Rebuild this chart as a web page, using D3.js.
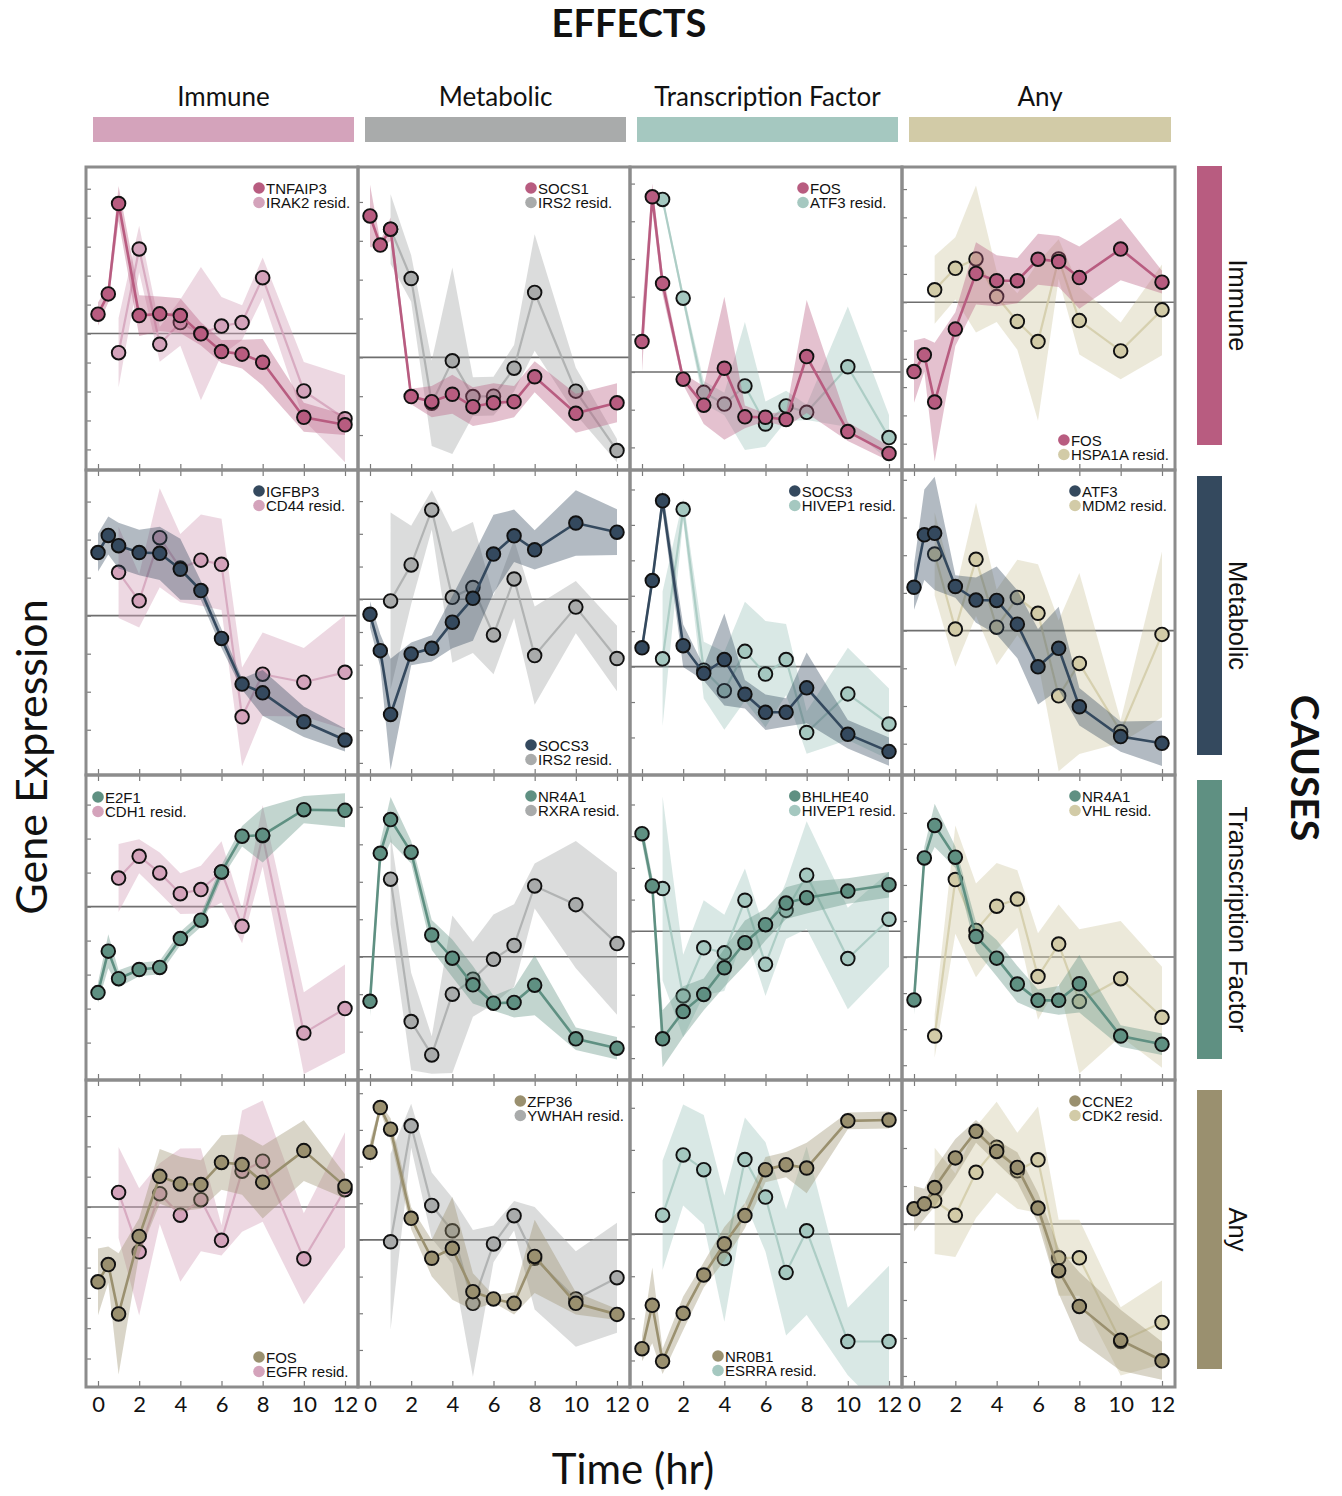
<!DOCTYPE html>
<html>
<head>
<meta charset="utf-8">
<script src="https://cdn.jsdelivr.net/npm/d3@7"></script>
<style>
  body { margin: 0; background: #fff; }
  text { fill: #111; }
</style>
</head>
<body>
<svg id="chart" width="1342" height="1496"></svg>
<script>
// ---- data ----
const times = [0, 0.5, 1, 2, 3, 4, 5, 6, 7, 8, 10, 12];
const xTickValues = [0, 2, 4, 6, 8, 10, 12];
const categories = ["Immune", "Metabolic", "Transcription Factor", "Any"];

// cause (row) = dark colour, effect (column) = light colour
const causeColors = ["#b85c80", "#34495e", "#5f9082", "#9a906f"];
const effectColors = ["#d4a3bb", "#a9abab", "#a5c8c0", "#d2cba7"];

const mainGenes = [
  ["TNFAIP3", "SOCS1", "FOS", "FOS"],
  ["IGFBP3", "SOCS3", "SOCS3", "ATF3"],
  ["E2F1", "NR4A1", "BHLHE40", "NR4A1"],
  ["FOS", "ZFP36", "NR0B1", "CCNE2"]
];
const residGenes = [
  ["IRAK2", "IRS2", "ATF3", "HSPA1A"],
  ["CD44", "IRS2", "HIVEP1", "MDM2"],
  ["CDH1", "RXRA", "HIVEP1", "VHL"],
  ["EGFR", "YWHAH", "ESRRA", "CDK2"]
];

const mainValues = [
  [
    [0.67, 1.37, 4.49, 0.62, 0.68, 0.62, -0.01, -0.62, -0.71, -0.99, -2.89, -3.15],
    [3.64, 2.89, 3.30, -1.01, -1.14, -0.95, -1.27, -1.17, -1.14, -0.50, -1.44, -1.17],
    [0.81, 4.65, 2.35, -0.19, -0.88, 0.10, -1.19, -1.20, -1.26, 0.41, -1.58, -2.16],
    [-2.45, -1.86, -3.53, -0.95, 1.02, 0.76, 0.76, 1.52, 1.44, 0.87, 1.88, 0.71]
  ],
  [
    [1.66, 2.11, 1.84, 1.66, 1.64, 1.22, 0.66, -0.60, -1.80, -2.03, -2.79, -3.27],
    [-0.46, -1.57, -3.52, -1.67, -1.50, -0.70, 0.03, 1.38, 1.94, 1.51, 2.33, 2.05],
    [0.53, 2.43, 4.68, 0.59, -0.19, 0.20, -0.78, -1.29, -1.29, -0.60, -1.91, -2.40],
    [1.15, 2.54, 2.58, 1.17, 0.81, 0.80, 0.17, -0.96, -0.47, -2.02, -2.81, -2.99]
  ],
  [
    [-2.53, -1.31, -2.12, -1.85, -1.79, -0.94, -0.40, 1.02, 2.07, 2.10, 2.85, 2.83],
    [-1.19, 2.76, 3.66, 2.79, 0.58, -0.04, -0.75, -1.24, -1.22, -0.76, -2.19, -2.44],
    [3.08, 1.43, -3.39, -2.53, -1.99, -1.15, -0.36, 0.21, 0.89, 1.06, 1.27, 1.47],
    [-1.19, 2.75, 3.65, 2.77, 0.57, -0.03, -0.75, -1.20, -1.20, -0.74, -2.19, -2.42]
  ],
  [
    [-2.47, -1.90, -3.53, -0.97, 1.01, 0.76, 0.74, 1.47, 1.40, 0.82, 1.86, 0.68],
    [2.39, 3.61, 3.02, 0.59, -0.50, -0.23, -1.41, -1.61, -1.73, -0.45, -1.73, -2.03],
    [-2.72, -1.69, -3.02, -1.88, -0.97, -0.23, 0.44, 1.53, 1.65, 1.57, 2.69, 2.71],
    [0.40, 0.53, 0.96, 1.74, 2.44, 1.91, 1.49, 0.42, -1.23, -2.17, -3.06, -3.60]
  ]
];
const mainSpread = [
  [
    [0.4, 0.3, 0.6, 0.7, 0.6, 0.6, 0.4, 0.4, 0.5, 0.8, 0.5, 0.35],
    [0.8, 0.1, 0.3, 0.2, 0.4, 0.5, 0.5, 0.5, 0.4, 0.4, 0.5, 0.5],
    [0.8, 0.35, 0.3, 0.15, 0.5, 1.9, 0.3, 0.1, 0.2, 1.5, 0.25, 0.2],
    [1.1, 0.6, 2.1, 0.6, 1.1, 0.9, 0.8, 0.9, 0.9, 1.1, 1.1, 0.4]
  ],
  [
    [0.5, 0.5, 0.6, 0.6, 0.7, 0.8, 0.25, 0.25, 0.15, 0.6, 0.4, 0.3],
    [0.4, 0.5, 1.7, 0.35, 0.4, 0.8, 1.3, 1.2, 0.8, 0.6, 1.0, 0.7],
    [0.2, 0.2, 0.3, 0.6, 0.2, 1.3, 0.4, 0.5, 0.4, 1.0, 0.4, 0.4],
    [0.6, 1.2, 1.5, 0.3, 0.6, 0.9, 0.9, 1.0, 1.1, 0.5, 0.4, 0.6]
  ],
  [
    [0.3, 0.5, 0.25, 0.2, 0.2, 0.2, 0.2, 0.2, 0.3, 0.8, 0.4, 0.5],
    [0.4, 0.3, 0.6, 0.3, 0.4, 0.5, 0.5, 0.2, 0.4, 0.8, 0.3, 0.3],
    [0.3, 0.3, 0.9, 0.8, 0.5, 0.6, 0.7, 0.5, 0.5, 0.5, 0.4, 0.4],
    [0.4, 0.3, 0.6, 0.3, 0.4, 0.5, 0.5, 0.3, 0.4, 0.8, 0.3, 0.3]
  ],
  [
    [1.1, 0.6, 2.0, 0.6, 0.9, 0.9, 0.8, 0.9, 1.0, 1.2, 1.0, 0.4],
    [0.3, 0.1, 0.3, 0.3, 0.5, 1.4, 0.5, 0.1, 0.3, 1.0, 0.3, 0.15],
    [0.3, 0.9, 0.3, 0.4, 0.3, 0.4, 0.3, 0.3, 0.3, 0.6, 0.2, 0.2],
    [0.6, 0.4, 0.5, 0.5, 0.3, 0.3, 0.4, 0.4, 0.6, 0.9, 0.8, 0.5]
  ]
];
const residValues = [
  [
    [null, null, -0.66, 2.92, -0.37, 0.38, 0.0, 0.26, 0.38, 1.93, -1.98, -2.94],
    [null, null, 3.30, 2.03, -1.18, -0.09, -1.01, -1.00, -0.28, 1.67, -0.87, -2.40],
    [null, null, 4.58, 1.96, -0.54, -0.85, -0.37, -1.38, -0.90, -1.07, 0.14, -1.74],
    [null, null, 0.44, 1.20, 1.53, 0.20, -0.68, -1.39, 1.53, -0.65, -1.72, -0.27]
  ],
  [
    [null, null, 1.14, 0.39, 2.05, 1.25, 1.46, 1.35, -2.66, -1.54, -1.75, -1.49],
    [null, null, -0.05, 1.05, 2.73, 0.06, 0.36, -1.09, 0.62, -1.72, -0.24, -1.81],
    [null, null, 0.22, 4.44, -0.10, -0.68, 0.43, -0.21, 0.20, -1.86, -0.77, -1.62],
    [null, null, 2.03, 0.04, 1.89, 0.09, 0.88, 0.46, -1.73, -0.87, -2.68, -0.10]
  ],
  [
    [null, null, 0.84, 1.48, 0.99, 0.38, 0.50, 1.02, -0.58, 2.08, -3.72, -3.00],
    [null, null, 2.07, -1.73, -2.62, -1.00, -0.60, -0.07, 0.30, 1.89, 1.39, 0.35],
    [null, null, 1.35, -2.04, -0.52, -0.68, 0.98, -1.04, 0.66, 1.77, -0.86, 0.38],
    [null, null, -2.19, 2.15, 0.74, 1.41, 1.61, -0.54, 0.36, -1.23, -0.60, -1.67]
  ],
  [
    [null, null, 0.48, -1.48, 0.44, -0.27, 0.24, -1.10, 1.18, 1.51, -1.71, 0.57],
    [null, null, -0.05, 3.11, 0.94, 0.25, -1.73, -0.11, 0.66, -0.50, -1.61, -1.03],
    [null, null, 0.45, 1.88, 1.53, -0.58, 1.77, 0.88, -0.91, 0.08, -2.55, -2.55],
    [null, null, 0.61, 0.23, 1.36, 2.02, 1.40, 1.69, -0.89, -0.89, -3.09, -2.59]
  ]
];
const residSpread = [
  [
    [null, null, 1.2, 0.8, 0.6, 0.8, 2.3, 1.0, 0.6, 0.7, 1.0, 1.5],
    [null, null, 0.9, 0.6, 1.1, 2.4, 0.5, 0.5, 0.6, 1.5, 0.6, 0.3],
    [null, null, 0.1, 0.15, 0.3, 0.3, 1.7, 0.6, 0.4, 0.2, 1.6, 0.6],
    [null, null, 1.2, 1.1, 2.6, 0.9, 1.0, 2.8, 0.7, 1.2, 1.0, 1.6]
  ],
  [
    [null, null, 1.2, 0.7, 1.3, 0.9, 1.2, 1.2, 1.3, 1.1, 0.9, 1.5],
    [null, null, 2.7, 1.2, 0.6, 2.0, 2.0, 1.2, 1.2, 1.5, 0.8, 1.0],
    [null, null, 1.9, 0.3, 0.8, 1.1, 1.4, 1.5, 1.0, 0.6, 1.3, 1.0],
    [null, null, 1.1, 1.0, 1.5, 1.0, 1.0, 1.3, 2.0, 2.4, 0.3, 2.2]
  ],
  [
    [null, null, 1.0, 0.5, 0.6, 0.6, 0.7, 0.9, 0.5, 0.9, 1.2, 1.3],
    [null, null, 1.2, 1.3, 0.5, 2.1, 1.0, 1.2, 1.1, 0.6, 1.7, 1.9],
    [null, null, 2.9, 1.3, 1.5, 1.2, 1.0, 1.0, 0.9, 1.7, 1.6, 1.5],
    [null, null, 0.6, 1.5, 1.3, 1.2, 0.8, 1.2, 1.1, 2.0, 1.6, 1.4]
  ],
  [
    [null, null, 1.5, 2.1, 1.0, 2.2, 1.7, 0.5, 2.0, 2.0, 1.5, 1.9],
    [null, null, 2.4, 0.6, 0.9, 0.9, 2.0, 0.5, 0.4, 1.4, 1.3, 1.5],
    [null, null, 1.3, 1.2, 1.3, 1.5, 1.0, 1.3, 1.5, 2.0, 0.8, 1.8],
    [null, null, 1.4, 1.1, 1.2, 1.2, 1.0, 1.4, 1.0, 1.0, 0.9, 1.1]
  ]
];
// y range of every panel, in the same units as the values (ticks at integers)
const yDomains = [
  [[-4.71, 5.75], [-2.90, 4.90], [-2.60, 5.44], [-5.93, 4.78]],
  [[-4.19, 3.83], [-5.37, 3.95], [-3.06, 5.55], [-3.83, 4.26]],
  [[-5.10, 3.87], [-3.29, 4.85], [-4.69, 4.93], [-3.41, 5.05]],
  [[-5.94, 4.19], [-4.01, 4.36], [-3.63, 3.66], [-4.29, 3.79]]
];

// ---- layout ----
const colEdges = [86, 358, 630, 902, 1175];
const rowEdges = [167, 470, 775, 1080, 1387];
const rightBarTop = [166, 476, 780, 1090];
const legendCorner = [
  ["tr", "tr", "tr", "br"],
  ["tr", "br", "tr", "tr"],
  ["tl", "tr", "tr", "tr"],
  ["br", "tr", "bc", "tr"]
];
const titleFont = "Lato, 'Open Sans', sans-serif";
const plainFont = "'Liberation Sans', Arial, Helvetica, sans-serif";

const svg = d3.select("#chart");

// titles
svg.append("text").attr("x", 629).attr("y", 37)
  .attr("text-anchor", "middle").style("font-family", titleFont)
  .style("font-size", "38px").style("font-weight", "bold").text("EFFECTS");

svg.append("text")
  .attr("transform", "translate(1306,768) rotate(90)")
  .attr("text-anchor", "middle").attr("dominant-baseline", "central")
  .style("font-family", titleFont).style("font-size", "39px").style("font-weight", "bold")
  .text("CAUSES");

svg.append("text")
  .attr("transform", "translate(30,757) rotate(-90)")
  .attr("text-anchor", "middle").attr("dominant-baseline", "central")
  .style("font-family", titleFont).style("font-size", "43px")
  .text("Gene Expression");

svg.append("text").attr("x", 633).attr("y", 1484)
  .attr("text-anchor", "middle").style("font-family", titleFont)
  .style("font-size", "42px").text("Time (hr)");

// category headers (top = effects, right = causes)
categories.forEach((name, i) => {
  const left = colEdges[i] + 7, right = colEdges[i + 1] - 4;
  svg.append("rect").attr("x", left).attr("y", 117)
    .attr("width", right - left).attr("height", 25).attr("fill", effectColors[i]);
  svg.append("text").attr("x", (left + right) / 2).attr("y", 106)
    .attr("text-anchor", "middle").style("font-family", titleFont)
    .style("font-size", "26px").text(name);

  svg.append("rect").attr("x", 1197).attr("y", rightBarTop[i])
    .attr("width", 25).attr("height", 279).attr("fill", causeColors[i]);
  svg.append("text")
    .attr("transform", `translate(1238,${rightBarTop[i] + 139.5}) rotate(90)`)
    .attr("text-anchor", "middle").attr("dominant-baseline", "central")
    .style("font-family", plainFont).style("font-size", "25.5px").text(name);
});

const defs = svg.append("defs");

function drawSeries(g, x, y, values, spread, color, isMain) {
  const pts = times.map((t, k) => ({ t: t, v: values[k], s: spread[k] }))
    .filter(d => d.v != null);

  const area = d3.area()
    .x(d => x(d.t))
    .y0(d => y(d.v - d.s))
    .y1(d => y(d.v + d.s));
  const line = d3.line().x(d => x(d.t)).y(d => y(d.v));

  g.append("path").datum(pts).attr("d", area)
    .attr("fill", color).attr("fill-opacity", isMain ? 0.38 : 0.42);
  g.append("path").datum(pts).attr("d", line)
    .attr("fill", "none").attr("stroke", color)
    .attr("stroke-width", isMain ? 2.6 : 2.2)
    .attr("stroke-opacity", isMain ? 1 : 0.85);
  g.selectAll(null).data(pts).enter().append("circle")
    .attr("cx", d => x(d.t)).attr("cy", d => y(d.v)).attr("r", 6.8)
    .attr("fill", color).attr("stroke", "#111").attr("stroke-width", 1.9);
}

function drawLegend(g, r, c, x0, x1, y0, y1) {
  const corner = legendCorner[r][c];
  const items = [
    { label: mainGenes[r][c], color: causeColors[r] },
    { label: residGenes[r][c] + " resid.", color: effectColors[c] }
  ];
  const lg = g.append("g");
  items.forEach((it, k) => {
    lg.append("circle").attr("cx", 0).attr("cy", k * 14.5).attr("r", 5.8).attr("fill", it.color);
    lg.append("text").attr("x", 7).attr("y", k * 14.5).attr("dominant-baseline", "central")
      .style("font-family", plainFont).style("font-size", "15px").text(it.label);
  });
  const w = d3.max(lg.selectAll("text").nodes(), n => n.getComputedTextLength()) + 7;
  let lx, ly;
  if (corner === "tl") { lx = x0 + 12; ly = y0 + 22; }
  else if (corner === "bc") { lx = x0 + 88; ly = y1 - 31; }
  else {
    lx = Math.min(x0 + 173, x1 - 6 - w);
    ly = corner === "tr" ? y0 + 21 : y1 - 30;
  }
  lg.attr("transform", `translate(${lx},${ly})`);
}

for (let r = 0; r < 4; r++) {
  for (let c = 0; c < 4; c++) {
    const x0 = colEdges[c], x1 = colEdges[c + 1];
    const y0 = rowEdges[r], y1 = rowEdges[r + 1];
    const x = d3.scaleLinear().domain([0, 12]).range([x0 + 12, x1 - 13]);
    const y = d3.scaleLinear().domain(yDomains[r][c]).range([y1, y0]);

    const clipId = `clip-${r}-${c}`;
    defs.append("clipPath").attr("id", clipId)
      .append("rect").attr("x", x0).attr("y", y0).attr("width", x1 - x0).attr("height", y1 - y0);

    const panel = svg.append("g");
    const plot = panel.append("g").attr("clip-path", `url(#${clipId})`);

    // zero line
    plot.append("line").attr("x1", x0).attr("x2", x1)
      .attr("y1", y(0)).attr("y2", y(0))
      .attr("stroke", "#6e6e6e").attr("stroke-width", 1.6);

    drawSeries(plot, x, y, residValues[r][c], residSpread[r][c], effectColors[c], false);
    drawSeries(plot, x, y, mainValues[r][c], mainSpread[r][c], causeColors[r], true);

    // y ticks (inside, left edge)
    const yt = panel.append("g").attr("transform", `translate(${x0},0)`)
      .call(d3.axisRight(y).tickValues(d3.range(Math.ceil(yDomains[r][c][0] + 0.2), Math.floor(yDomains[r][c][1] - 0.2) + 1))
        .tickSize(5).tickFormat(""));
    yt.select(".domain").remove();
    yt.selectAll("line").attr("stroke", "#7a7a7a").attr("stroke-width", 1.2);

    // x ticks (inside, bottom edge and top edge below first row)
    const xb = panel.append("g").attr("transform", `translate(0,${y1})`)
      .call(d3.axisTop(x).tickValues(xTickValues).tickSize(6).tickFormat(""));
    xb.select(".domain").remove();
    xb.selectAll("line").attr("stroke", "#7a7a7a").attr("stroke-width", 1.2);
    if (r > 0) {
      const xt = panel.append("g").attr("transform", `translate(0,${y0})`)
        .call(d3.axisBottom(x).tickValues(xTickValues).tickSize(6).tickFormat(""));
      xt.select(".domain").remove();
      xt.selectAll("line").attr("stroke", "#7a7a7a").attr("stroke-width", 1.2);
    }

    // frame
    panel.append("rect").attr("x", x0).attr("y", y0)
      .attr("width", x1 - x0).attr("height", y1 - y0)
      .attr("fill", "none").attr("stroke", "#8c8c8c").attr("stroke-width", 3);

    drawLegend(panel, r, c, x0, x1, y0, y1);

    if (r === 3) {
      const xl = svg.append("g").attr("transform", `translate(0,${y1 + 6})`)
        .call(d3.axisBottom(x).tickValues(xTickValues).tickSize(0).tickPadding(0));
      xl.select(".domain").remove();
      xl.selectAll("text").style("font-family", titleFont).style("font-size", "22px")
        .attr("fill", "#111").attr("dy", "0.85em");
    }
  }
}
</script>
</body>
</html>
